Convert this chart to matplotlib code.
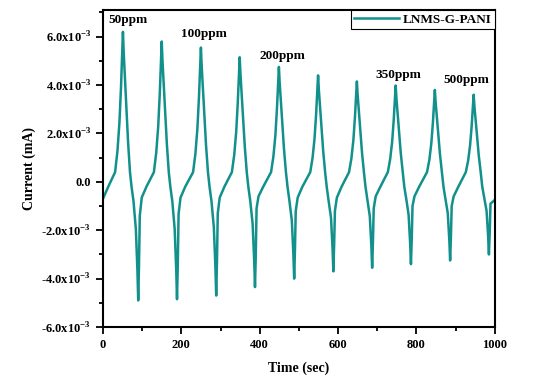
import matplotlib
matplotlib.use("Agg")
import matplotlib.pyplot as plt
from matplotlib.ticker import MultipleLocator, FixedLocator, FixedFormatter
import numpy as np

# time (sec) and current (x1e-3 mA), one row per cycle
time_sec = [
    0, 15,
    31, 37, 42, 46, 49, 51, 53, 56, 60, 64, 69, 73, 78, 84, 88, 90, 92, 94, 99, 111,
    130, 136, 141, 145, 148, 150, 152, 155, 159, 163, 168, 172, 177, 183, 187, 189, 191, 193, 198, 210,
    230, 236, 241, 245, 248, 250, 252, 255, 259, 263, 268, 272, 277, 283, 287, 289, 291, 293, 298, 310,
    329, 335, 340, 344, 347, 349, 351, 354, 358, 362, 367, 371, 376, 382, 386, 388, 390, 392, 397, 409,
    429, 435, 440, 444, 447, 449, 451, 454, 458, 462, 467, 471, 476, 482, 486, 488, 490, 492, 497, 509,
    529, 535, 540, 544, 547, 549, 551, 554, 558, 562, 567, 571, 576, 582, 586, 588, 590, 592, 597, 609,
    628, 634, 639, 643, 646, 648, 650, 653, 657, 661, 666, 670, 675, 681, 685, 687, 689, 691, 696, 708,
    727, 733, 738, 742, 745, 747, 749, 752, 756, 760, 765, 769, 774, 780, 784, 786, 788, 790, 795, 807,
    827, 833, 838, 842, 845, 847, 849, 852, 856, 860, 865, 869, 874, 880, 884, 886, 888, 890, 895, 907,
    926, 932, 937, 941, 944, 946, 948, 951, 955, 959, 964, 968, 973, 979, 983, 985, 987, 989, 1000,
]
current_e3 = [
    -0.7, -0.15,
    0.4, 1.27, 2.43, 3.88, 5.27, 6.2, 5.33, 4.34, 3.01, 1.68, 0.4, -0.2, -0.8, -1.96, -3.68, -4.9, -3.43, -1.4, -0.65, -0.2,
    0.4, 1.21, 2.29, 3.64, 4.94, 5.8, 4.99, 4.07, 2.83, 1.59, 0.4, -0.2, -0.8, -1.94, -3.64, -4.85, -3.40, -1.33, -0.65, -0.2,
    0.4, 1.17, 2.20, 3.49, 4.73, 5.55, 4.78, 3.90, 2.72, 1.53, 0.4, -0.2, -0.8, -1.88, -3.53, -4.7, -3.29, -1.3, -0.65, -0.2,
    0.4, 1.11, 2.06, 3.25, 4.39, 5.15, 4.44, 3.63, 2.54, 1.45, 0.4, -0.2, -0.8, -1.74, -3.26, -4.35, -3.05, -1.1, -0.6, -0.2,
    0.4, 1.05, 1.92, 3.01, 4.05, 4.75, 4.10, 3.36, 2.36, 1.36, 0.4, -0.2, -0.8, -1.6, -3.0, -4.0, -2.8, -1.2, -0.65, -0.2,
    0.4, 1.0, 1.8, 2.8, 3.76, 4.4, 3.8, 3.12, 2.2, 1.28, 0.4, -0.2, -0.8, -1.48, -2.78, -3.7, -2.59, -1.2, -0.65, -0.2,
    0.4, 0.96, 1.71, 2.65, 3.55, 4.15, 3.59, 2.95, 2.09, 1.23, 0.4, -0.2, -0.75, -1.42, -2.66, -3.55, -2.49, -1.1, -0.6, -0.2,
    0.4, 0.94, 1.65, 2.55, 3.41, 3.98, 3.44, 2.83, 2.01, 1.19, 0.4, -0.2, -0.7, -1.36, -2.55, -3.4, -2.38, -1.0, -0.6, -0.2,
    0.4, 0.91, 1.59, 2.44, 3.26, 3.8, 3.29, 2.71, 1.93, 1.15, 0.4, -0.2, -0.7, -1.3, -2.44, -3.25, -2.28, -1.0, -0.6, -0.2,
    0.4, 0.88, 1.52, 2.32, 3.09, 3.6, 3.12, 2.58, 1.84, 1.10, 0.4, -0.2, -0.65, -1.2, -2.25, -3.0, -2.1, -0.9, -0.75,
]

conc_labels = ["50ppm", "100ppm", "200ppm", "350ppm", "500ppm"]
conc_x = [13, 199, 400, 696, 870]
conc_y = [6.7e-3, 6.1e-3, 5.2e-3, 4.4e-3, 4.2e-3]

ytick_vals = [-6e-3, -4e-3, -2e-3, 0.0, 2e-3, 4e-3, 6e-3]
ytick_text = [r"-6.0x10$^{\mathregular{-3}}$", r"-4.0x10$^{\mathregular{-3}}$",
              r"-2.0x10$^{\mathregular{-3}}$", "0.0",
              r"2.0x10$^{\mathregular{-3}}$", r"4.0x10$^{\mathregular{-3}}$",
              r"6.0x10$^{\mathregular{-3}}$"]

plt.rcParams["font.family"] = ["Liberation Serif", "DejaVu Serif"]
plt.rcParams["font.weight"] = "bold"

fig = plt.figure(figsize=(5.39, 3.87), dpi=100)
ax = fig.add_axes([0.191, 0.155, 0.727, 0.819])

color = "#11908c"
ax.plot(time_sec, np.array(current_e3) * 1e-3, color=color, lw=1.8, label="LNMS-G-PANI")

for lab, x, y in zip(conc_labels, conc_x, conc_y):
    ax.text(x, y, lab, ha="left", va="center", fontsize=9.5, fontweight="bold")

ax.set_xlim(0, 1000)
ax.set_ylim(-6e-3, 7.1e-3)
ax.xaxis.set_major_locator(MultipleLocator(200))
ax.xaxis.set_minor_locator(MultipleLocator(100))
ax.yaxis.set_major_locator(FixedLocator(ytick_vals))
ax.yaxis.set_major_formatter(FixedFormatter(ytick_text))
ax.yaxis.set_minor_locator(MultipleLocator(1e-3))
ax.tick_params(which="both", direction="out", width=1.3, labelsize=9)
ax.tick_params(which="major", length=5)
ax.tick_params(which="minor", length=3)
for s in ax.spines.values():
    s.set_linewidth(1.5)

ax.set_xlabel("Time (sec)", fontsize=10, fontweight="bold", labelpad=8)
ax.set_ylabel("Current (mA)", fontsize=10, fontweight="bold", labelpad=4)

leg = ax.legend(loc="upper right", borderaxespad=0, fancybox=False,
                edgecolor="black", framealpha=1, fontsize=9.5,
                handlelength=3.4, borderpad=0.25, handletextpad=0.3)
leg.get_frame().set_linewidth(0.8)

fig.savefig("out.png", dpi=100)
